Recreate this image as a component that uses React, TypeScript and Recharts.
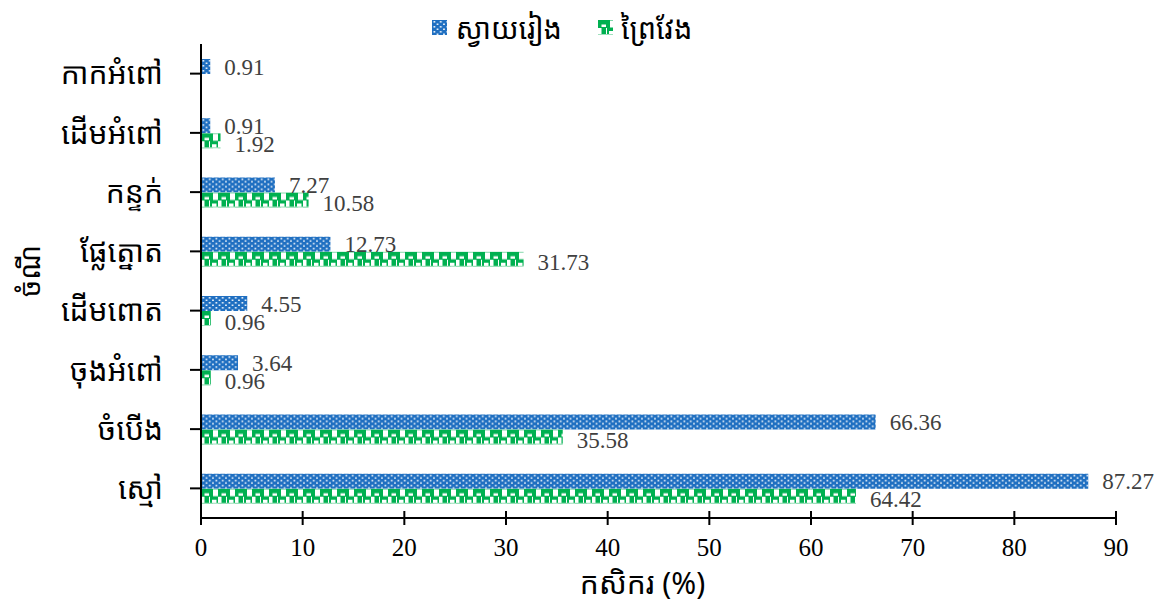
import React from 'react';
import { BarChart, Bar, XAxis, YAxis, Legend, LabelList, Label } from 'recharts';

const categories = ['កាកអំពៅ', 'ដើមអំពៅ', 'កន្ទក់', 'ផ្លែត្នោត', 'ដើមពោត', 'ចុងអំពៅ', 'ចំបើង', 'ស្មៅ'];
const svayRieng = [0.91, 0.91, 7.27, 12.73, 4.55, 3.64, 66.36, 87.27];
const preyVeng: (number | null)[] = [null, 1.92, 10.58, 31.73, 0.96, 0.96, 35.58, 64.42];
const xTicks = [0, 10, 20, 30, 40, 50, 60, 70, 80, 90];
const seriesNames = ['ស្វាយរៀង', 'ព្រៃវែង'];
const xTitle = 'កសិករ (%)';
const yTitle = 'ចំណី';

const data = categories.map((c, i) => ({ name: c, a: svayRieng[i], b: preyVeng[i] }));

const KHMER = "'Noto Sans Khmer', 'Khmer OS', 'Noto Sans', sans-serif";
const SERIF = "'Liberation Serif', 'Times New Roman', serif";
const BLUE = '#1F6FC1';
const GREEN = '#00B050';

const bluePattern = (id: string, x = 0, y = 0) => (
  <pattern id={id} patternUnits="userSpaceOnUse" x={x} y={y} width={6.5} height={5}>
    <rect x={0} y={0} width={6.5} height={5} fill={BLUE} />
    <rect x={1.5} y={1} width={1.6} height={1.6} fill="#fff" />
    <rect x={4.7} y={3.5} width={1.6} height={1.5} fill="#fff" />
  </pattern>
);

const greenPattern = (id: string, x = 0, y = 0) => (
  <pattern id={id} patternUnits="userSpaceOnUse" x={x} y={y} width={17} height={15}>
    <rect x={0} y={0} width={17} height={15} fill={GREEN} />
    <rect x={12} y={0.5} width={5} height={7} fill="#fff" />
    <rect x={3.5} y={4.5} width={4.5} height={2.5} fill="#fff" />
    <rect x={0} y={8} width={3.5} height={7} fill="#fff" />
    <rect x={8} y={8} width={1} height={7} fill="#fff" />
    <rect x={11} y={11} width={4.5} height={3} fill="#fff" />
    <rect x={0} y={14} width={17} height={1} fill="#9FE0BC" />
  </pattern>
);

const PatternBar = (props: any) => {
  const { x, y, width, height, index, kind } = props;
  if (!width || width <= 0 || !height) return null;
  const id = `bar-${kind}-${index}`;
  return (
    <g>
      <defs>{kind === 'a' ? bluePattern(id, x, y) : greenPattern(id, x, y)}</defs>
      <rect x={x} y={y} width={width} height={height} fill={`url(#${id})`} />
    </g>
  );
};

const XTick = (props: any) => {
  const { x, y, payload } = props;
  return (
    <g>
      <line x1={x} x2={x} y1={y - 7} y2={y + 7} stroke="#000" strokeWidth={2} />
      <text x={x} y={y + 38} textAnchor="middle" fontFamily={SERIF} fontSize={25} fill="#000" style={{ fontFamily: SERIF }}>
        {String(payload.value)}
      </text>
    </g>
  );
};

const LegendContent = () => (
  <div style={{ display: 'flex', justifyContent: 'center', alignItems: 'center', height: 34, fontFamily: KHMER, fontSize: 29, color: '#000', paddingLeft: 8 }}>
    <svg width={15} height={15} style={{ marginRight: 9 }}>
      <rect x={0} y={0} width={15} height={15} fill="url(#patBlue)" />
    </svg>
    <span style={{ marginRight: 36 }}>{seriesNames[0]}</span>
    <svg width={15} height={15} style={{ marginRight: 8 }}>
      <rect x={0} y={0} width={15} height={15} fill="url(#patGreen)" />
    </svg>
    <span>{seriesNames[1]}</span>
  </div>
);

export default function App() {
  return (
    <div style={{ position: 'absolute', left: 0, top: 0, width: 1160, height: 607, background: '#fff' }}>
      <BarChart
        width={1160}
        height={607}
        data={data}
        layout="vertical"
        margin={{ top: 10, right: 44, bottom: 9, left: 0 }}
        barCategoryGap="25%"
        barGap={0}
      >
        <defs>
          {bluePattern('patBlue')}
          {greenPattern('patGreen')}
        </defs>
        <Legend verticalAlign="top" align="center" height={34} content={<LegendContent />} />
        <XAxis
          type="number"
          domain={[0, 90]}
          ticks={xTicks}
          interval={0}
          tickSize={0}
          tickMargin={0}
          tick={(p: any) => <XTick {...p} />}
          axisLine={{ stroke: '#000', strokeWidth: 2 }}
          height={80}
        >
          <Label value={xTitle} position="insideBottom" offset={4} dx={-16} style={{ fontFamily: KHMER, fontSize: 30, fill: '#000' }} />
        </XAxis>
        <YAxis
          type="category"
          dataKey="name"
          width={201}
          tickSize={11}
          tickMargin={27}
          tickLine={{ stroke: '#000', strokeWidth: 2 }}
          axisLine={{ stroke: '#000', strokeWidth: 2 }}
          tick={{ fontFamily: KHMER, fontSize: 30, fill: '#000' }}
        >
          <Label value={yTitle} angle={-90} position="insideLeft" offset={30} dy={-10} style={{ fontFamily: KHMER, fontSize: 28, fill: '#000', textAnchor: 'middle' }} />
        </YAxis>
        <Bar dataKey="a" name={seriesNames[0]} fill={BLUE} barSize={15} isAnimationActive={false} shape={(p: any) => <PatternBar {...p} kind="a" />}>
          <LabelList dataKey="a" position="right" offset={14} style={{ fontFamily: SERIF, fontSize: 23, fill: '#404040' }} />
        </Bar>
        <Bar dataKey="b" name={seriesNames[1]} fill={GREEN} barSize={15} isAnimationActive={false} shape={(p: any) => <PatternBar {...p} kind="b" />}>
          <LabelList dataKey="b" position="right" offset={14} dy={3} style={{ fontFamily: SERIF, fontSize: 23, fill: '#404040' }} />
        </Bar>
      </BarChart>
    </div>
  );
}
